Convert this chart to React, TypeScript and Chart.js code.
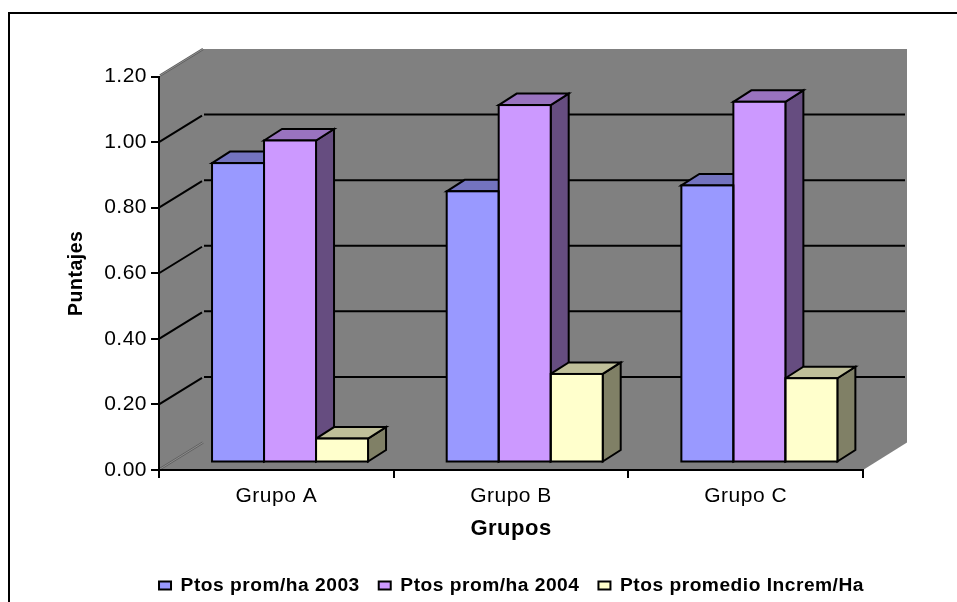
import React, { useEffect, useRef } from "react";
import { Chart, registerables } from "chart.js";

Chart.register(...registerables);

const categories = ["Grupo A", "Grupo B", "Grupo C"];
const seriesNames = ["Ptos prom/ha 2003", "Ptos prom/ha 2004", "Ptos promedio Increm/Ha"];
const values2003 = [0.913, 0.827, 0.845];
const values2004 = [0.982, 1.09, 1.1];
const valuesIncrem = [0.073, 0.27, 0.257];

const frontColors = ["#9999FF", "#CC99FF", "#FFFFCC"];
const topColors = ["#7373BF", "#9973BF", "#BFBF99"];
const sideColors = ["#4D4D80", "#664D80", "#808066"];

const FONT = "'Liberation Sans', Arial, sans-serif";
const WALL_DX = 44;
const WALL_DY = -27.5;
const BAR_SHIFT_X = 13.7;
const BAR_SHIFT_Y = -7.5;
const BAR_DX = 18;
const BAR_DY = -11.5;

function poly(ctx: CanvasRenderingContext2D, pts: number[][], fill: string | null, stroke: string | null, lw = 2) {
  ctx.beginPath();
  pts.forEach((p, i) => (i ? ctx.lineTo(p[0], p[1]) : ctx.moveTo(p[0], p[1])));
  ctx.closePath();
  if (fill) {
    ctx.fillStyle = fill;
    ctx.fill();
  }
  if (stroke) {
    ctx.strokeStyle = stroke;
    ctx.lineWidth = lw;
    ctx.lineJoin = "miter";
    ctx.stroke();
  }
}

function segment(ctx: CanvasRenderingContext2D, x0: number, y0: number, x1: number, y1: number, color: string, lw: number) {
  ctx.beginPath();
  ctx.moveTo(x0, y0);
  ctx.lineTo(x1, y1);
  ctx.strokeStyle = color;
  ctx.lineWidth = lw;
  ctx.stroke();
}

const plot3d = {
  id: "plot3d",
  beforeUpdate(chart: any) {
    chart.ctx.letterSpacing = "0.5px";
  },
  afterLayout(chart: any) {
    const lg = chart.legend;
    if (lg) {
      lg.left = 66;
      lg.right = 957;
      lg.top = 557;
      lg.bottom = 602;
    }
  },
  beforeDraw(chart: any) {
    const { ctx, chartArea: a, scales } = chart;
    const y = scales.y;
    ctx.save();
    // outer frame
    ctx.beginPath();
    ctx.moveTo(9, 602);
    ctx.lineTo(9, 13);
    ctx.lineTo(957, 13);
    ctx.strokeStyle = "#000";
    ctx.lineWidth = 2;
    ctx.stroke();
    // walls and floor
    poly(
      ctx,
      [
        [a.left, a.top],
        [a.left + WALL_DX, a.top + WALL_DY],
        [a.right + WALL_DX, a.top + WALL_DY],
        [a.right + WALL_DX, a.bottom + WALL_DY],
        [a.right, a.bottom],
        [a.left, a.bottom],
      ],
      "#808080",
      null
    );
    // grid lines, taken from the axis ticks
    y.ticks.forEach((t: any) => {
      const py = y.getPixelForValue(t.value);
      if (t.value > 0 && t.value < 1.2) {
        segment(ctx, a.left, py, a.left + WALL_DX - 1, py + WALL_DY + 1, "#000", 2);
        segment(ctx, a.left + WALL_DX + 1, py + WALL_DY, a.right + WALL_DX - 2, py + WALL_DY, "#000", 2);
      } else {
        segment(ctx, a.left + 1, py - 1, a.left + WALL_DX, py + WALL_DY, "#5E5E5E", 2.5);
        segment(ctx, a.left + 1, py - 1, a.left + WALL_DX, py + WALL_DY, "#9A9A9A", 0.8);
      }
    });
    ctx.restore();
  },
  beforeDatasetsDraw(chart: any) {
    const { ctx } = chart;
    ctx.save();
    ctx.translate(BAR_SHIFT_X, BAR_SHIFT_Y);
    // top and side faces, behind every front face
    chart.data.datasets.forEach((_: any, d: number) => {
      chart.getDatasetMeta(d).data.forEach((el: any) => {
        const { x, y, base, width } = el.getProps(["x", "y", "base", "width"], true);
        const l = x - width / 2;
        const r = x + width / 2;
        poly(ctx, [[r, y], [r + BAR_DX, y + BAR_DY], [r + BAR_DX, base + BAR_DY], [r, base]], sideColors[d], "#000");
        poly(ctx, [[l, y], [l + BAR_DX, y + BAR_DY], [r + BAR_DX, y + BAR_DY], [r, y]], topColors[d], "#000");
      });
    });
  },
  afterDatasetsDraw(chart: any) {
    const { ctx } = chart;
    chart.data.datasets.forEach((_: any, d: number) => {
      chart.getDatasetMeta(d).data.forEach((el: any) => {
        const { x, y, base, width } = el.getProps(["x", "y", "base", "width"], true);
        ctx.strokeStyle = "#000";
        ctx.lineWidth = 2;
        ctx.strokeRect(x - width / 2, y, width, base - y);
      });
    });
    ctx.restore();
  },
};

export default function App() {
  const ref = useRef<HTMLCanvasElement>(null);
  useEffect(() => {
    const chart = new Chart(ref.current!, {
      type: "bar",
      data: {
        labels: categories,
        datasets: [values2003, values2004, valuesIncrem].map((data, i) => ({
          label: seriesNames[i],
          data,
          backgroundColor: frontColors[i],
          borderWidth: 0,
          barPercentage: 1,
          categoryPercentage: 0.6648,
        })),
      },
      options: {
        responsive: false,
        animation: false,
        devicePixelRatio: 1,
        layout: { padding: { left: 61, right: 94, top: 76.5, bottom: 0 } },
        scales: {
          x: {
            offset: true,
            grid: { offset: true, drawOnChartArea: false, drawTicks: true, tickLength: 8, color: "#000", lineWidth: 2 },
            border: { display: true, color: "#000", width: 2 },
            ticks: { color: "#000", font: { family: FONT, size: 21 }, padding: 6, maxRotation: 0, autoSkip: false },
            title: { display: true, text: "Grupos", color: "#000", font: { family: FONT, size: 22, weight: "bold" }, padding: { top: 3, bottom: 12 } },
            afterFit(s: any) {
              s.height = 83.8;
            },
          },
          y: {
            min: 0,
            max: 1.2,
            ticks: {
              stepSize: 0.2,
              color: "#000",
              font: { family: FONT, size: 21 },
              padding: 4,
              callback: (v: any) => Number(v).toFixed(2),
            },
            grid: { drawOnChartArea: false, drawTicks: true, tickLength: 8, color: "#000", lineWidth: 2 },
            border: { display: true, color: "#000", width: 2 },
            title: { display: true, text: "Puntajes", color: "#000", font: { family: FONT, size: 19.5, weight: "bold" }, padding: { top: 4, bottom: 0 } },
            afterFit(s: any) {
              s.width = 98;
            },
          },
        },
        plugins: {
          legend: {
            position: "bottom",
            labels: {
              color: "#000",
              boxWidth: 12,
              boxHeight: 8,
              padding: 19,
              font: { family: FONT, size: 19.2, weight: "bold" },
              generateLabels: (c: any) =>
                Chart.defaults.plugins.legend.labels.generateLabels(c).map((l: any) => ({ ...l, lineWidth: 2, strokeStyle: "#000" })),
            },
          },
          tooltip: { enabled: false },
          title: { display: false },
        },
      },
      plugins: [plot3d],
    } as any);
    return () => chart.destroy();
  }, []);
  return (
    <div style={{ position: "absolute", left: 0, top: 0, width: 957, height: 602, background: "#fff", overflow: "hidden" }}>
      <canvas ref={ref} width={957} height={602} style={{ display: "block" }} />
    </div>
  );
}
